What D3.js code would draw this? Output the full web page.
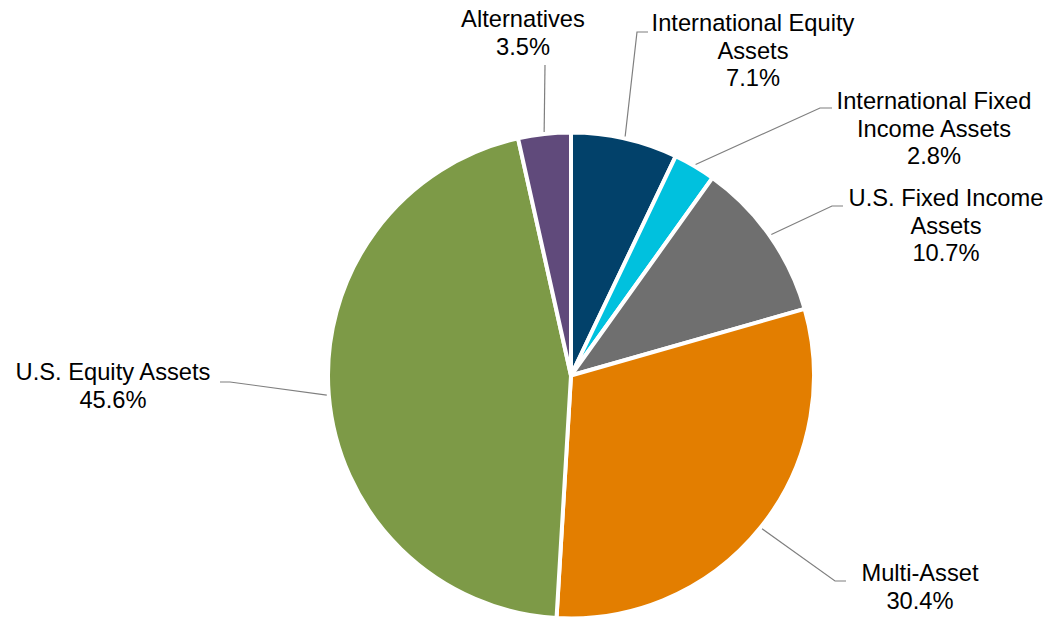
<!DOCTYPE html>
<html><head><meta charset="utf-8">
<script src="https://cdn.jsdelivr.net/npm/d3@7"></script>
<style>html,body{margin:0;padding:0;background:#fff;}svg{display:block;}</style>
</head><body>
<svg id="chart" width="1048" height="618"></svg>
<script>
const categories = ["International Equity Assets","International Fixed Income Assets","U.S. Fixed Income Assets","Multi-Asset","U.S. Equity Assets","Alternatives"];
const values = [7.1, 2.8, 10.7, 30.4, 45.6, 3.5];
const labelLines = [["International Equity","Assets"],["International Fixed","Income Assets"],["U.S. Fixed Income","Assets"],["Multi-Asset"],["U.S. Equity Assets"],["Alternatives"]];
const colors = ["#02416A","#00C1DE","#6F6F6F","#E37E00","#7D9A47","#604A7B"];

// layout (label anchors, leader elbows)
const layout = [
  {cx:753, by:31,  ex:637, ey:32,  hx:648},
  {cx:934, by:109, ex:820, ey:108, hx:832},
  {cx:946, by:206, ex:832, ey:206, hx:843},
  {cx:920, by:581, ex:835, ey:581, hx:846},
  {cx:113, by:380, ex:230, ey:382, hx:220},
  {cx:523, by:27,  ex:545, ey:65,  hx:545}
];

const W=1048,H=618, cx=571, cy=375.5, R=243, lh=27.5;
const svg=d3.select("#chart");
const data = categories.map((c,i)=>({cat:c, value:values[i], i}));
const pie = d3.pie().sort(null).value(d=>d.value);
const arcs = pie(data);
const arc = d3.arc().innerRadius(0).outerRadius(R);
const g = svg.append("g").attr("transform",`translate(${cx},${cy})`);
g.selectAll("path").data(arcs).join("path")
  .attr("d",arc).attr("fill",d=>colors[d.data.i])
  .attr("stroke","#fff").attr("stroke-width",4).attr("stroke-linejoin","round");

const fmt = d3.format(".1f");
arcs.forEach(a=>{
  const L = layout[a.data.i];
  const mid=(a.startAngle+a.endAngle)/2;
  const px = cx + (R+2)*Math.sin(mid), py = cy - (R+2)*Math.cos(mid);
  svg.append("path")
    .attr("d", d3.line()([[px,py],[L.ex,L.ey],[L.hx,L.ey]]))
    .attr("fill","none").attr("stroke","#7f7f7f").attr("stroke-width",1.2);
  const lines = labelLines[a.data.i].concat([fmt(a.data.value)+"%"]);
  const t = svg.append("text").attr("text-anchor","middle")
    .attr("font-family","'Liberation Sans', Arial, sans-serif")
    .attr("font-size","23.7px").attr("fill","#000");
  lines.forEach((s,k)=>{
    t.append("tspan").attr("x",L.cx).attr("y",L.by + k*lh).text(s);
  });
});
</script>
</body></html>
